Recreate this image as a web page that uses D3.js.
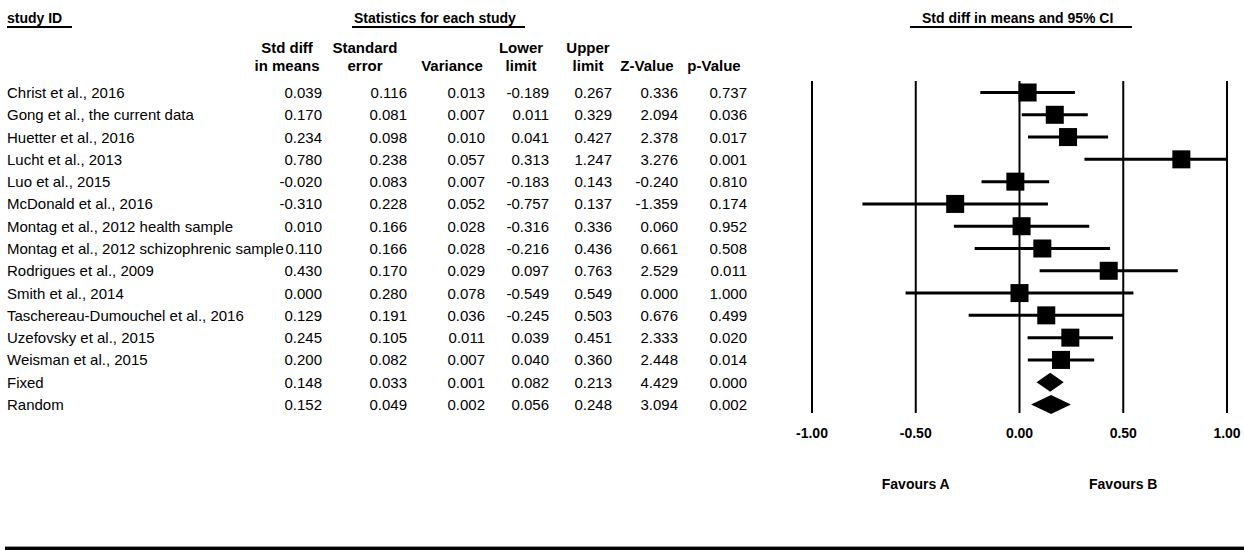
<!DOCTYPE html>
<html>
<head>
<meta charset="utf-8">
<script src="https://cdn.jsdelivr.net/npm/d3@7"></script>
<style>
  html, body { margin: 0; padding: 0; background: #fff; }
  svg { display: block; font-family: "Liberation Sans", Arial, sans-serif; }
</style>
</head>
<body>
<svg id="chart" width="1244" height="550"></svg>
<script>
// ---------------- data ----------------
const studies = [
  "Christ et al., 2016",
  "Gong et al., the current data",
  "Huetter et al., 2016",
  "Lucht et al., 2013",
  "Luo et al., 2015",
  "McDonald et al., 2016",
  "Montag et al., 2012 health sample",
  "Montag et al., 2012 schizophrenic sample",
  "Rodrigues et al., 2009",
  "Smith et al., 2014",
  "Taschereau-Dumouchel et al., 2016",
  "Uzefovsky et al., 2015",
  "Weisman et al., 2015",
  "Fixed",
  "Random"
];
const summaryRows = ["Fixed", "Random"];
const stdDiff  = [0.039, 0.170, 0.234, 0.780, -0.020, -0.310, 0.010, 0.110, 0.430, 0.000, 0.129, 0.245, 0.200, 0.148, 0.152];
const stdErr   = [0.116, 0.081, 0.098, 0.238, 0.083, 0.228, 0.166, 0.166, 0.170, 0.280, 0.191, 0.105, 0.082, 0.033, 0.049];
const variance = [0.013, 0.007, 0.010, 0.057, 0.007, 0.052, 0.028, 0.028, 0.029, 0.078, 0.036, 0.011, 0.007, 0.001, 0.002];
const lowerLim = [-0.189, 0.011, 0.041, 0.313, -0.183, -0.757, -0.316, -0.216, 0.097, -0.549, -0.245, 0.039, 0.040, 0.082, 0.056];
const upperLim = [0.267, 0.329, 0.427, 1.247, 0.143, 0.137, 0.336, 0.436, 0.763, 0.549, 0.503, 0.451, 0.360, 0.213, 0.248];
const zValue   = [0.336, 2.094, 2.378, 3.276, -0.240, -1.359, 0.060, 0.661, 2.529, 0.000, 0.676, 2.333, 2.448, 4.429, 3.094];
const pValue   = [0.737, 0.036, 0.017, 0.001, 0.810, 0.174, 0.952, 0.508, 0.011, 1.000, 0.499, 0.020, 0.014, 0.000, 0.002];

const columnHeads = [
  ["Std diff", "in means"],
  ["Standard", "error"],
  ["", "Variance"],
  ["Lower", "limit"],
  ["Upper", "limit"],
  ["", "Z-Value"],
  ["", "p-Value"]
];
const sectionTitles = ["study ID", "Statistics for each study", "Std diff in means and 95% CI"];
const axisTicks = [-1, -0.5, 0, 0.5, 1];
const axisTickLabels = ["-1.00", "-0.50", "0.00", "0.50", "1.00"];
const favourLabels = [{ text: "Favours A", at: -0.5 }, { text: "Favours B", at: 0.5 }];

// ---------------- layout ----------------
const svg = d3.select("#chart");
const FONT = 15;
const columnsData = [stdDiff, stdErr, variance, lowerLim, upperLim, zValue, pValue];
const colRight  = [322, 407, 485, 549, 612, 678, 747];
const colCenter = [287, 365, 452, 521, 588, 647, 714];

const y = d3.scalePoint().domain(studies).range([92.5, 404.5]);
const x = d3.scaleLinear().domain([-1, 1]).range([812, 1227]);

// section titles with underlines
const titles = [
  { t: sectionTitles[0], x: 7,   x0: 7,   x1: 72 },
  { t: sectionTitles[1], x: 354, x0: 352, x1: 525 },
  { t: sectionTitles[2], x: 922, x0: 910, x1: 1132 }
];
titles.forEach(d => {
  svg.append("text").attr("x", d.x).attr("y", 18)
    .attr("dominant-baseline", "central")
    .attr("font-size", 14).attr("font-weight", "bold").attr("fill", "#000").text(d.t);
  svg.append("line").attr("x1", d.x0).attr("x2", d.x1).attr("y1", 27).attr("y2", 27)
    .attr("stroke", "#000").attr("stroke-width", 2);
});

// column headers
columnHeads.forEach((lines, i) => {
  lines.forEach((ln, j) => {
    if (!ln) return;
    svg.append("text").attr("x", colCenter[i]).attr("y", j === 0 ? 47 : 65)
      .attr("text-anchor", "middle").attr("dominant-baseline", "central")
      .attr("font-size", FONT).attr("font-weight", "bold").text(ln);
  });
});

// study names
svg.append("g").selectAll("text").data(studies).join("text")
  .attr("x", 7).attr("y", d => y(d))
  .attr("dominant-baseline", "central").attr("font-size", FONT).text(d => d);

// numeric columns
columnsData.forEach((col, ci) => {
  svg.append("g").selectAll("text").data(col).join("text")
    .attr("x", colRight[ci]).attr("y", (d, i) => y(studies[i]))
    .attr("text-anchor", "end").attr("dominant-baseline", "central")
    .attr("font-size", FONT).text(d => d.toFixed(3));
});

// forest plot vertical lines
const plotTop = 81, plotBottom = 413;
svg.append("g").selectAll("line").data(axisTicks).join("line")
  .attr("x1", d => x(d)).attr("x2", d => x(d))
  .attr("y1", plotTop).attr("y2", plotBottom)
  .attr("stroke", "#000").attr("stroke-width", 2);

// tick labels
svg.append("g").selectAll("text").data(axisTicks).join("text")
  .attr("x", d => x(d)).attr("y", 433)
  .attr("text-anchor", "middle").attr("dominant-baseline", "central")
  .attr("font-size", 14).attr("font-weight", "bold").text((d, i) => axisTickLabels[i]);

// favours labels
svg.append("g").selectAll("text").data(favourLabels).join("text")
  .attr("x", d => x(d.at)).attr("y", 484)
  .attr("text-anchor", "middle").attr("dominant-baseline", "central")
  .attr("font-size", 14).attr("font-weight", "bold").text(d => d.text);

// study CI lines and squares
const rows = studies.map((s, i) => ({ s, i, est: stdDiff[i], lo: lowerLim[i], hi: upperLim[i] }));
const indiv = rows.filter(r => !summaryRows.includes(r.s));
const summ = rows.filter(r => summaryRows.includes(r.s));
const [dMin, dMax] = x.domain();
const clamp = v => Math.max(dMin, Math.min(dMax, v));

svg.append("g").selectAll("line").data(indiv).join("line")
  .attr("x1", d => x(clamp(d.lo))).attr("x2", d => x(clamp(d.hi)))
  .attr("y1", d => y(d.s)).attr("y2", d => y(d.s))
  .attr("stroke", "#000").attr("stroke-width", 3);

const SQ = 18;
svg.append("g").selectAll("rect").data(indiv).join("rect")
  .attr("x", d => x(d.est) - SQ / 2).attr("y", d => y(d.s) - SQ / 2)
  .attr("width", SQ).attr("height", SQ).attr("fill", "#000");

// summary diamonds
const H = 9.5;
svg.append("g").selectAll("path").data(summ).join("path")
  .attr("d", d => {
    const cy = y(d.s);
    return `M${x(d.lo)},${cy} L${x(d.est)},${cy - H} L${x(d.hi)},${cy} L${x(d.est)},${cy + H} Z`;
  })
  .attr("fill", "#000");

// bottom rule
svg.append("line").attr("x1", 5).attr("x2", 1244).attr("y1", 546.5).attr("y2", 546.5)
  .attr("stroke", "#999").attr("stroke-width", 1);
svg.append("line").attr("x1", 5).attr("x2", 1244).attr("y1", 548.5).attr("y2", 548.5)
  .attr("stroke", "#000").attr("stroke-width", 3);
</script>
</body>
</html>
